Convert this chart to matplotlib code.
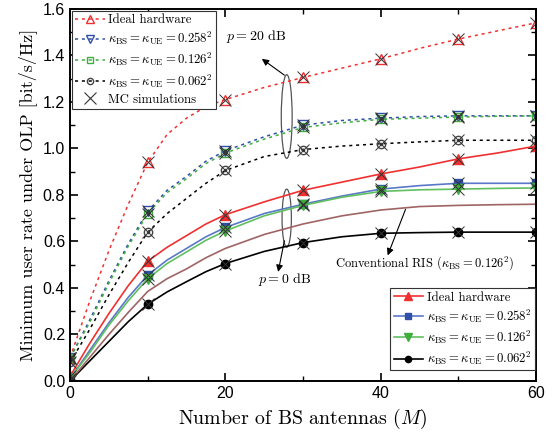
import matplotlib
matplotlib.use("Agg")
import matplotlib.pyplot as plt
from matplotlib.patches import Ellipse
from matplotlib.lines import Line2D

plt.rcParams['mathtext.fontset'] = 'cm'
plt.rcParams['axes.unicode_minus'] = False

# antenna numbers used for the curves, markers sit at 0,10,...,60
M = [0, 2.5, 5, 7.5, 10, 12.5, 15, 17.5, 20, 25, 30, 35, 40, 45, 50, 55, 60]
mk = [0, 4, 8, 10, 12, 14, 16]

# p = 20 dB (dotted)
hi_ideal = [0.10, 0.34, 0.56, 0.76, 0.94, 1.06, 1.13, 1.18, 1.21, 1.262, 1.305, 1.345, 1.385, 1.43, 1.47, 1.505, 1.54]
hi_258 = [0.10, 0.26, 0.43, 0.59, 0.73, 0.82, 0.88, 0.945, 0.99, 1.05, 1.10, 1.12, 1.13, 1.137, 1.14, 1.14, 1.14]
hi_126 = [0.10, 0.25, 0.42, 0.58, 0.72, 0.81, 0.87, 0.935, 0.98, 1.04, 1.09, 1.11, 1.125, 1.13, 1.135, 1.138, 1.14]
hi_062 = [0.08, 0.22, 0.37, 0.51, 0.64, 0.72, 0.785, 0.85, 0.905, 0.965, 0.995, 1.01, 1.02, 1.028, 1.035, 1.035, 1.035]

# p = 0 dB (solid)
lo_ideal = [0.02, 0.16, 0.29, 0.41, 0.515, 0.575, 0.625, 0.675, 0.715, 0.77, 0.82, 0.855, 0.89, 0.92, 0.955, 0.98, 1.01]
lo_258 = [0.01, 0.13, 0.25, 0.36, 0.455, 0.52, 0.57, 0.62, 0.66, 0.72, 0.76, 0.795, 0.825, 0.84, 0.85, 0.85, 0.85]
lo_126 = [0.01, 0.12, 0.24, 0.345, 0.44, 0.505, 0.555, 0.605, 0.645, 0.71, 0.755, 0.79, 0.815, 0.822, 0.825, 0.828, 0.83]
lo_062 = [0.0, 0.085, 0.17, 0.255, 0.33, 0.383, 0.427, 0.47, 0.505, 0.557, 0.595, 0.62, 0.635, 0.638, 0.64, 0.64, 0.64]
conv_ris = [0.0, 0.10, 0.20, 0.295, 0.385, 0.44, 0.482, 0.53, 0.57, 0.63, 0.675, 0.71, 0.735, 0.75, 0.755, 0.758, 0.76]

red = '#f03030'
blue = '#2f4fa8'
blue_l = '#5a78c8'
green = '#3fae3f'
green_l = '#60c060'
brown = '#a06464'

k258 = r'$\kappa_{\rm BS}=\kappa_{\rm UE}=0.258^2$'
k126 = r'$\kappa_{\rm BS}=\kappa_{\rm UE}=0.126^2$'
k062 = r'$\kappa_{\rm BS}=\kappa_{\rm UE}=0.062^2$'

fig = plt.figure(figsize=(5.56, 4.43), dpi=100)
ax = fig.add_axes([0.126, 0.14, 0.838, 0.84])

dots = (0, (2, 2.5))
l1, = ax.plot(M, hi_ideal, color=red, ls=dots, lw=1.1, marker='^', mfc='none', mec=red, ms=7, markevery=mk)
l2, = ax.plot(M, hi_258, color=blue, ls=dots, lw=1.1, marker='v', mfc='none', mec=blue, ms=7, markevery=mk)
l3, = ax.plot(M, hi_126, color=green, ls=dots, lw=1.1, marker='s', mfc='none', mec=green, ms=6, markevery=mk)
l4, = ax.plot(M, hi_062, color='black', ls=dots, lw=1.1, marker='o', mfc='none', mec='#444444', ms=6, markevery=mk)
for y in [hi_258, hi_126, hi_062]:
    ax.plot([M[i] for i in mk], [y[i] for i in mk], ls='none', marker='.', color='#444444', ms=3)

s1, = ax.plot(M, lo_ideal, color=red, lw=1.2, marker='^', mfc=red, mec=red, ms=7, markevery=mk)
s2, = ax.plot(M, lo_258, color=blue_l, lw=1.2, marker='s', mfc=blue, mec=blue, ms=6, markevery=mk)
s3, = ax.plot(M, lo_126, color=green_l, lw=1.2, marker='v', mfc=green, mec=green, ms=7, markevery=mk)
s4, = ax.plot(M, lo_062, color='black', lw=1.2, marker='o', mfc='black', mec='black', ms=6, markevery=mk)
ax.plot(M, conv_ris, color=brown, lw=1.2)

# MC simulation crosses on every marker
for y in [hi_ideal, hi_258, hi_126, hi_062, lo_ideal, lo_258, lo_126, lo_062]:
    ax.plot([M[i] for i in mk], [y[i] for i in mk], ls='none', marker='x', color='#333333', ms=9, mew=0.7)

ax.set_xlim(0, 60)
ax.set_ylim(0, 1.6)
ax.set_xticks([0, 20, 40, 60])
ax.set_xticks([10, 30, 50], minor=True)
ax.set_yticks([0.0, 0.2, 0.4, 0.6, 0.8, 1.0, 1.2, 1.4, 1.6])
ax.set_yticks([0.1, 0.3, 0.5, 0.7, 0.9, 1.1, 1.3, 1.5], minor=True)
ax.set_yticklabels(['0.0', '0.2', '0.4', '0.6', '0.8', '1.0', '1.2', '1.4', '1.6'])
ax.tick_params(which='both', direction='in', top=True, right=True, labelsize=11.5)
ax.tick_params(which='major', length=6, width=1.2)
ax.tick_params(which='minor', length=3.5, width=1)
for lab in ax.get_xticklabels() + ax.get_yticklabels():
    lab.set_family('Liberation Sans')
for sp in ax.spines.values():
    sp.set_linewidth(1.4)

ax.set_xlabel(r'Number of BS antennas ($M$)', family='cmr10', fontsize=14.3)
ax.set_ylabel('Minimum user rate under OLP [bit/s/Hz]', family='cmr10', fontsize=13)

# ellipses and annotations
arrow = dict(arrowstyle='-|>', color='black', lw=0.8, shrinkA=0, shrinkB=0)
ax.add_patch(Ellipse((27.9, 1.137), 1.4, 0.36, fill=False, ec='#555555', lw=0.9))
ax.add_patch(Ellipse((27.9, 0.70), 1.2, 0.25, fill=False, ec='#555555', lw=0.9))
ax.annotate('', xy=(24.7, 1.385), xytext=(27.6, 1.315), arrowprops=arrow)
ax.text(23.9, 1.48, r'$p=20$ dB', fontsize=10, family='cmr10', ha='center', va='center')
ax.annotate('', xy=(26.8, 0.469), xytext=(27.6, 0.603), arrowprops=arrow)
ax.text(27.7, 0.435, r'$p=0$ dB', fontsize=10, family='cmr10', ha='center', va='center')
ax.annotate('', xy=(40.9, 0.54), xytext=(43.2, 0.738), arrowprops=arrow)
ax.text(45.6, 0.49, r'Conventional RIS ($\kappa_{\rm BS}=0.126^2$)', fontsize=9, family='cmr10', ha='center')

mc_h = Line2D([], [], ls='none', marker='x', color='#333333', ms=12, mew=0.8)
leg1 = ax.legend([l1, l2, l3, l4, mc_h], ['Ideal hardware', k258, k126, k062, 'MC simulations'],
                 loc='upper left', prop={'family': 'cmr10', 'size': 9.2}, fancybox=False,
                 edgecolor='#333333', framealpha=1, handlelength=2.3, handletextpad=0.3,
                 borderpad=0.25, labelspacing=0.3, borderaxespad=0.15, markerscale=0.75)
leg1.get_frame().set_linewidth(0.8)
ax.add_artist(leg1)
leg2 = ax.legend([s1, s2, s3, s4], ['Ideal hardware', k258, k126, k062],
                 loc='lower right', bbox_to_anchor=(1.0, 0.025), prop={'family': 'cmr10', 'size': 9.2},
                 fancybox=False, edgecolor='#333333', framealpha=1, handlelength=2.3,
                 handletextpad=0.3, borderpad=0.25, labelspacing=0.3, borderaxespad=0.1,
                 markerscale=0.75)
leg2.get_frame().set_linewidth(0.8)

fig.savefig('out.png', dpi=100)
